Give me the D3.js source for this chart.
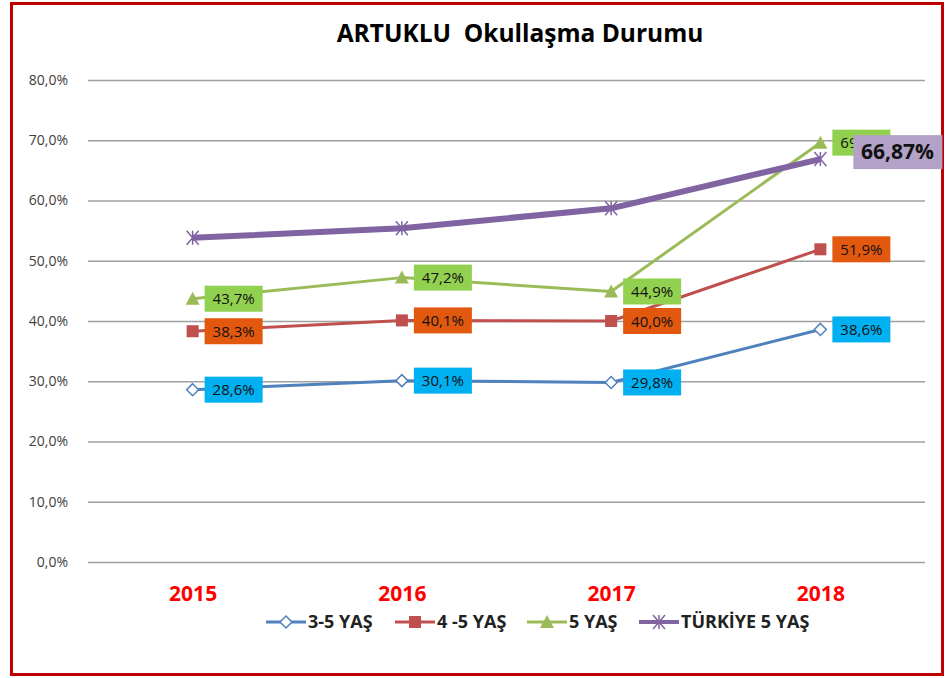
<!DOCTYPE html>
<html>
<head>
<meta charset="utf-8">
<script src="https://cdn.jsdelivr.net/npm/d3@7"></script>
<style>
  body { margin: 0; background: #fff; }
  svg { display: block; font-family: "Open Sans", sans-serif; }
</style>
</head>
<body>
<svg id="chart" width="946" height="678"></svg>
<script>
// ---- data ----
const years = ['2015', '2016', '2017', '2018'];
const yTicks = [0, 0.1, 0.2, 0.3, 0.4, 0.5, 0.6, 0.7, 0.8];

const seriesNames = ['3-5 YAŞ', '4 -5 YAŞ', '5 YAŞ', 'TÜRKİYE 5 YAŞ'];
const v35      = [0.286, 0.301, 0.298, 0.386];
const v45      = [0.383, 0.401, 0.400, 0.519];
const v5       = [0.437, 0.472, 0.449, 0.696];
const vTurkiye = [0.538, 0.554, 0.587, 0.6687];

const series = [
    { name: seriesNames[0], values: v35,      color: '#4F81BD', marker: 'diamond',  width: 3, labelBg: '#00B0F0', labels: [0, 1, 2, 3] },
    { name: seriesNames[1], values: v45,      color: '#C0504D', marker: 'square',   width: 3, labelBg: '#E2580F', labels: [0, 1, 2, 3] },
    { name: seriesNames[2], values: v5,       color: '#9BBB59', marker: 'triangle', width: 3, labelBg: '#92D050', labels: [0, 1, 2, 3] },
    { name: seriesNames[3], values: vTurkiye, color: '#8064A2', marker: 'star',     width: 6, labelBg: '#B3A2C7', labels: [3], big: true }
];

// ---- layout ----
const svg = d3.select('#chart');
const plot = { left: 88, right: 925, top: 80, bottom: 562 };

const x = d3.scalePoint().domain(years).range([plot.left, plot.right]).padding(0.5);
const y = d3.scaleLinear().domain([0, 0.8]).range([plot.bottom, plot.top]);
const pct = (v, d) => d3.format('.' + d + 'f')(v * 100).replace('.', ',') + '%';

// background + border
svg.append('rect').attr('width', 946).attr('height', 678).attr('fill', '#fff');
svg.append('rect')
    .attr('x', 11.5).attr('y', 3.5).attr('width', 931).attr('height', 671)
    .attr('fill', 'none').attr('stroke', '#C00000').attr('stroke-width', 3);

// title
svg.append('text')
    .attr('x', 520).attr('y', 42)
    .attr('text-anchor', 'middle')
    .attr('font-size', 24.5).attr('font-weight', 'bold').attr('fill', '#000')
    .attr('xml:space', 'preserve')
    .text('ARTUKLU  Okullaşma Durumu');

// grid + y axis
const yAxis = d3.axisLeft(y).tickValues(yTicks)
    .tickSize(-(plot.right - plot.left)).tickPadding(20)
    .tickFormat(d => pct(d, 1));
const gy = svg.append('g').attr('transform', `translate(${plot.left},0)`).call(yAxis);
gy.select('.domain').remove();
gy.selectAll('.tick line').attr('stroke', '#A0A0A0').attr('stroke-width', 1.3);
gy.selectAll('.tick text')
    .attr('font-size', 14).attr('fill', '#404040')
    .attr('font-family', '"Open Sans", sans-serif');

// x axis labels
const xAxis = d3.axisBottom(x).tickSize(0).tickPadding(0);
const gx = svg.append('g').attr('transform', `translate(0,${plot.bottom + 24})`).call(xAxis);
gx.select('.domain').remove();
gx.selectAll('.tick text')
    .attr('font-size', 21).attr('font-weight', 'bold').attr('fill', '#FF0000')
    .attr('font-family', '"Open Sans", sans-serif');

// markers
function drawMarker(g, type, cx, cy, color) {
    if (type == 'diamond') {
        g.append('path')
            .attr('d', `M${cx},${cy - 6}L${cx + 6},${cy}L${cx},${cy + 6}L${cx - 6},${cy}Z`)
            .attr('fill', '#fff').attr('stroke', color).attr('stroke-width', 1.5);
    } else if (type == 'square') {
        g.append('rect')
            .attr('x', cx - 6).attr('y', cy - 6).attr('width', 12).attr('height', 12)
            .attr('fill', color);
    } else if (type == 'triangle') {
        g.append('path')
            .attr('d', `M${cx},${cy - 7}L${cx + 7},${cy + 6}L${cx - 7},${cy + 6}Z`)
            .attr('fill', color);
    } else if (type == 'star') {
        g.append('path')
            .attr('d', `M${cx - 6},${cy - 7}L${cx + 6},${cy + 7}M${cx + 6},${cy - 7}L${cx - 6},${cy + 7}M${cx},${cy - 7}L${cx},${cy + 7}`)
            .attr('fill', 'none').attr('stroke', color).attr('stroke-width', 1.5);
    }
}

const line = d3.line().x((d, i) => x(years[i])).y(d => y(d));

const gLines = svg.append('g');
series.forEach(s => {
    const g = gLines.append('g');
    g.append('path')
        .datum(s.values)
        .attr('d', line)
        .attr('fill', 'none')
        .attr('stroke', s.color)
        .attr('stroke-width', s.width)
        .attr('stroke-linejoin', 'round');
    s.values.forEach((v, i) => drawMarker(g, s.marker, x(years[i]), y(v), s.color));
});

// data labels (the 2018 "5 YAŞ" label sits under the Türkiye label, as in the original)
const gLabels = svg.append('g');
series.forEach(s => {
    s.labels.forEach(i => {
        const v = s.values[i];
        const px = x(years[i]), py = y(v);
        if (s.big) {
            gLabels.append('rect')
                .attr('x', px + 33).attr('y', py - 24).attr('width', 89).attr('height', 34)
                .attr('fill', s.labelBg);
            gLabels.append('text')
                .attr('x', px + 77).attr('y', py)
                .attr('text-anchor', 'middle')
                .attr('font-size', 21).attr('font-weight', 'bold').attr('fill', '#111')
                .text(pct(v, 2));
        } else {
            gLabels.append('rect')
                .attr('x', px + 12).attr('y', py - 13).attr('width', 58).attr('height', 26)
                .attr('fill', s.labelBg);
            gLabels.append('text')
                .attr('x', px + 41).attr('y', py + 5.5)
                .attr('text-anchor', 'middle')
                .attr('font-size', 15).attr('fill', '#111')
                .text(pct(v, 1));
        }
    });
});

// legend
const legendX = [266, 395, 527, 639];
const gLegend = svg.append('g').attr('transform', 'translate(0,622)');
series.forEach((s, i) => {
    const g = gLegend.append('g').attr('transform', `translate(${legendX[i]},0)`);
    g.append('line')
        .attr('x1', 0).attr('x2', 40).attr('y1', 0).attr('y2', 0)
        .attr('stroke', s.color).attr('stroke-width', s.width == 6 ? 4 : 3);
    drawMarker(g, s.marker, 20, 0, s.color);
    g.append('text')
        .attr('x', 42).attr('y', 6)
        .attr('font-size', 18).attr('font-weight', 'bold').attr('fill', '#222')
        .text(s.name);
});
</script>
</body>
</html>
